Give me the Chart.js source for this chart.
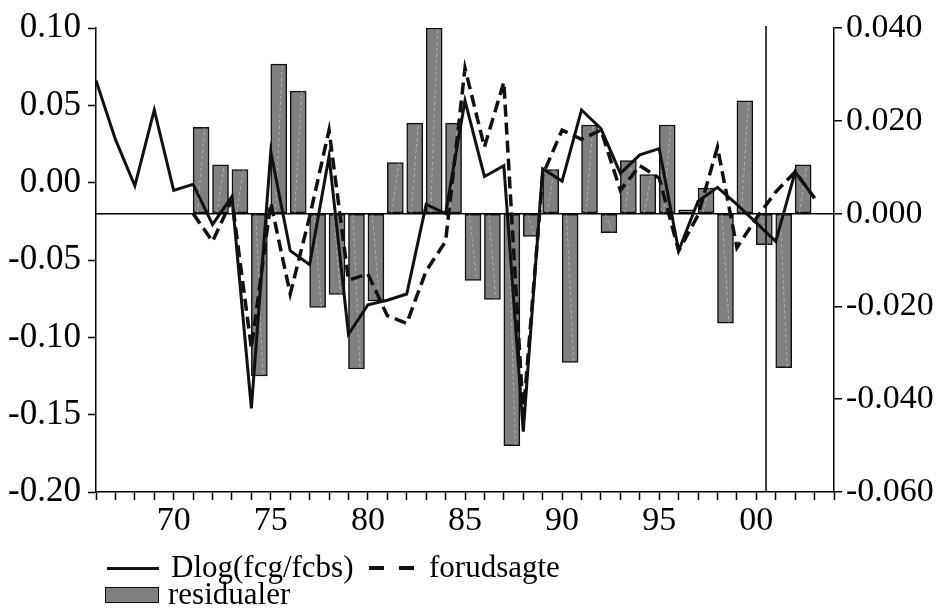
<!DOCTYPE html>
<html>
<head>
<meta charset="utf-8">
<script src="https://cdn.jsdelivr.net/npm/chart.js@4.4.1/dist/chart.umd.min.js"></script>
<style>
    body { margin: 0; background: #fff; }
    #wrap { position: relative; width: 936px; height: 614px; }
    .leg-text {
        position: absolute;
        font-family: 'Liberation Serif', 'Times New Roman', serif;
        font-size: 31px;
        line-height: 31px;
        color: #000;
        white-space: nowrap;
    }
    .leg-line { position: absolute; height: 3px; background: #111; }
    .leg-box {
        position: absolute;
        box-sizing: border-box;
        background: #808080;
        border: 1.5px solid #111;
    }
</style>
</head>
<body>
<div id="wrap">
    <canvas id="chart"></canvas>

    <div class="leg-line" style="left:107px; top:567px; width:52px;"></div>
    <div class="leg-text" style="left:171px; top:551px;">Dlog(fcg/fcbs)</div>
    <div class="leg-line" style="left:369px; top:566px; width:15px; height:4px;"></div>
    <div class="leg-line" style="left:399px; top:566px; width:15px; height:4px;"></div>
    <div class="leg-text" style="left:429px; top:551px;">forudsagte</div>

    <div class="leg-box" style="left:105px; top:587px; width:54px; height:16px;"></div>
    <div class="leg-text" style="left:168px; top:578px;">residualer</div>
</div>

<script>
// data
const years = [1966, 1967, 1968, 1969, 1970, 1971, 1972, 1973, 1974, 1975,
               1976, 1977, 1978, 1979, 1980, 1981, 1982, 1983, 1984, 1985,
               1986, 1987, 1988, 1989, 1990, 1991, 1992, 1993, 1994, 1995,
               1996, 1997, 1998, 1999, 2000, 2001, 2002, 2003];
const dlog = [0.066, 0.028, -0.002, 0.047, -0.005, -0.001, -0.027, -0.009, -0.146, 0.020,
              -0.044, -0.053, 0.017, -0.098, -0.079, -0.076, -0.072, -0.014, -0.020, 0.053,
              0.004, 0.011, -0.161, 0.009, 0.001, 0.047, 0.035, 0.006, 0.018, 0.022,
              -0.044, -0.012, -0.003, -0.014, -0.026, -0.038, 0.007, -0.010];

const fitYears = [1971, 1972, 1973, 1974, 1975, 1976, 1977, 1978, 1979, 1980,
                  1981, 1982, 1983, 1984, 1985, 1986, 1987, 1988, 1989, 1990,
                  1991, 1992, 1993, 1994, 1995, 1996, 1997, 1998, 1999, 2000,
                  2001, 2002, 2003];
const forudsagte = [-0.020, -0.038, -0.011, -0.107, -0.013, -0.072, -0.022, 0.034, -0.063, -0.059,
                    -0.086, -0.091, -0.057, -0.038, 0.074, 0.023, 0.065, -0.150, 0.005, 0.034,
                    0.028, 0.034, -0.005, 0.011, 0.003, -0.044, -0.021, 0.023, -0.042, -0.023,
                    -0.006, 0.007, -0.010];

const residYears = [1971, 1972, 1973, 1974, 1975, 1976, 1977, 1978, 1979, 1980,
                    1981, 1982, 1983, 1984, 1985, 1986, 1987, 1988, 1989, 1990,
                    1991, 1992, 1993, 1994, 1995, 1996, 1997, 1998, 1999, 2000,
                    2001, 2002];
const residualer = [0.0186, 0.0105, 0.0095, -0.0350, 0.0322, 0.0264, -0.0202, -0.0174, -0.0335, -0.0188,
                    0.0110, 0.0195, 0.0400, 0.0195, -0.0144, -0.0185, -0.0500, -0.0049, 0.0095, -0.0321,
                    0.0191, -0.0041, 0.0114, 0.0084, 0.0191, 0.0008, 0.0055, -0.0236, 0.0243, -0.0067,
                    -0.0332, 0.0105];

const xLabelYears = [1970, 1975, 1980, 1985, 1990, 1995, 2000];
const xLabelText = ['70', '75', '80', '85', '90', '95', '00'];

const splitYear = 2000.5;   // vertical marker line
const xMin = 1966, xMax = 2004;

Chart.defaults.font.family = "'Liberation Serif', 'Times New Roman', serif";
Chart.defaults.font.size = 35;
Chart.defaults.color = '#000';

const toPoints = (xs, ys) => xs.map((x, i) => ({ x: x, y: ys[i] }));

// vertical line at the split year
const splitLine = {
    id: 'splitLine',
    afterDatasetsDraw(chart) {
        const { ctx, chartArea, scales } = chart;
        const x = scales.x.getPixelForValue(splitYear);
        ctx.save();
        ctx.strokeStyle = '#000';
        ctx.lineWidth = 1.5;
        ctx.beginPath();
        ctx.moveTo(x, chartArea.top - 2);
        ctx.lineTo(x, chartArea.bottom);
        ctx.stroke();
        ctx.restore();
    }
};

// faint light streak inside each bar
const barHatch = {
    id: 'barHatch',
    afterDatasetDraw(chart, args) {
        if (args.meta.label !== 'residualer') return;
        const ctx = chart.ctx;
        ctx.save();
        ctx.strokeStyle = 'rgba(255,255,255,0.4)';
        ctx.lineWidth = 1;
        ctx.setLineDash([3, 3]);
        args.meta.data.forEach(el => {
            const p = el.getProps(['x', 'y', 'base', 'width'], true);
            if (Math.abs(p.base - p.y) < 6) return;
            ctx.beginPath();
            ctx.moveTo(p.x - p.width * 0.22, p.base);
            ctx.lineTo(p.x + p.width * 0.22, p.y);
            ctx.stroke();
        });
        ctx.restore();
    }
};

const tickGrid = {
    drawOnChartArea: false,
    drawTicks: true,
    tickLength: 8,
    tickColor: '#000',
    tickWidth: 1.5
};
const axisBorder = { color: '#000', width: 1.5 };

new Chart(document.getElementById('chart').getContext('2d'), {
    type: 'line',
    data: {
        datasets: [
            {
                // empty slot (sorted first) so the residual bars sit right of each year tick
                type: 'bar',
                label: '',
                data: [],
                xAxisID: 'x',
                yAxisID: 'yr',
                barThickness: 16,
                order: 2.5
            },
            {
                type: 'bar',
                label: 'residualer',
                data: toPoints(residYears, residualer),
                xAxisID: 'x',
                yAxisID: 'yr',
                backgroundColor: '#808080',
                borderColor: '#111',
                borderWidth: 1.5,
                borderSkipped: false,
                barThickness: 16,
                order: 3
            },
            {
                label: 'forudsagte',
                data: toPoints(fitYears, forudsagte),
                xAxisID: 'x',
                yAxisID: 'y',
                borderColor: '#111',
                borderWidth: 3.5,
                borderDash: [12, 6],
                pointRadius: 0,
                tension: 0,
                fill: false,
                order: 2
            },
            {
                label: 'Dlog(fcg/fcbs)',
                data: toPoints(years, dlog),
                xAxisID: 'x',
                yAxisID: 'y',
                borderColor: '#111',
                borderWidth: 3,
                pointRadius: 0,
                tension: 0,
                fill: false,
                order: 1
            }
        ]
    },
    options: {
        responsive: true,
        maintainAspectRatio: false,
        animation: false,
        layout: { padding: { top: 26, left: 0, right: 0, bottom: 0 } },
        plugins: {
            legend: { display: false },
            tooltip: { enabled: false }
        },
        scales: {
            x: {
                type: 'linear',
                position: 'bottom',
                min: xMin,
                max: xMax,
                offset: false,
                afterFit: s => { s.height = 122; },
                grid: Object.assign({}, tickGrid, { offset: false }),
                border: axisBorder,
                ticks: {
                    stepSize: 1,
                    autoSkip: false,
                    maxRotation: 0,
                    padding: 1,
                    font: { size: 34 },
                    callback: v => {
                        const i = xLabelYears.indexOf(v);
                        return i >= 0 ? xLabelText[i] : '';
                    }
                }
            },
            y: {
                position: 'left',
                min: -0.2,
                max: 0.1,
                afterFit: s => { s.width = 96; },
                grid: tickGrid,
                border: axisBorder,
                ticks: { stepSize: 0.05, padding: 7, callback: v => v.toFixed(2) }
            },
            yr: {
                position: 'right',
                min: -0.06,
                max: 0.04,
                afterFit: s => { s.width = 102; },
                grid: {
                    drawOnChartArea: true,
                    drawTicks: true,
                    tickLength: 8,
                    tickColor: '#000',
                    tickWidth: 1.5,
                    lineWidth: 1.5,
                    color: c => (c.tick && Math.abs(c.tick.value) < 1e-9) ? '#000' : 'rgba(0,0,0,0)'
                },
                border: axisBorder,
                ticks: { stepSize: 0.02, padding: 4, font: { size: 34 }, callback: v => v.toFixed(3) }
            }
        }
    },
    plugins: [splitLine, barHatch]
});
</script>
</body>
</html>
